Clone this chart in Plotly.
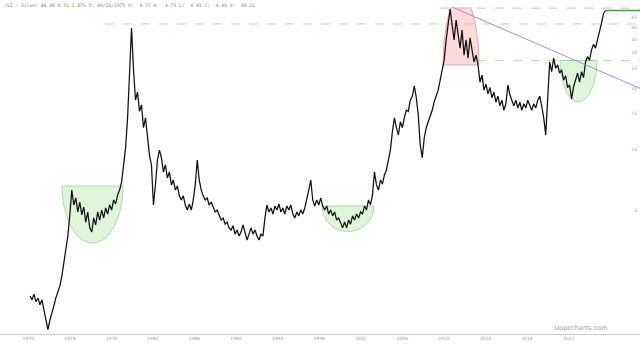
import numpy as np
import pandas as pd
import plotly.graph_objects as go

# ---------------- data ----------------
start_date = "1970-03-03"
step_days = 70
prices = [
    1.89, 1.81, 1.93, 1.77, 1.85, 1.71, 1.81, 1.61, 1.47, 1.29,
    1.44, 1.54, 1.69, 1.85, 1.98, 2.12, 2.37, 2.80, 3.19, 3.74,
    4.75, 6.30, 5.32, 5.76, 4.91, 5.50, 4.75, 5.20, 4.38, 4.91,
    4.10, 3.91, 4.59, 4.24, 4.91, 4.48, 5.02, 4.59, 5.14, 4.80,
    5.32, 5.02, 5.63, 5.38, 5.96, 6.30, 6.90, 8.38, 10.15, 14.3,
    22.0, 39.7, 24.7, 17.5, 19.2, 15.4, 16.6, 12.8, 14.3, 11.1,
    9.38, 8.38, 5.32, 6.68, 8.87, 9.93, 9.10, 7.74, 8.38, 7.23,
    7.74, 6.68, 7.06, 6.30, 6.60, 5.90, 5.63, 5.90, 5.32, 5.02,
    5.38, 5.02, 5.63, 6.68, 8.87, 7.06, 6.30, 5.90, 5.63, 5.76,
    5.32, 5.50, 5.14, 4.91, 5.02, 4.70, 4.48, 4.59, 4.28, 4.38,
    4.10, 4.00, 4.20, 3.82, 4.00, 3.74, 3.91, 4.24, 3.91, 3.57,
    3.82, 4.10, 3.82, 4.00, 3.74, 3.57, 3.82, 3.74, 4.59, 5.32,
    4.91, 5.14, 4.80, 5.26, 5.02, 5.38, 4.91, 5.14, 4.80, 5.26,
    5.02, 5.32, 4.80, 4.59, 4.91, 4.70, 5.02, 4.80, 5.14, 5.63,
    6.30, 7.06, 5.63, 5.26, 5.63, 5.32, 5.76, 5.26, 5.02, 5.26,
    4.80, 5.02, 4.70, 4.91, 4.48, 4.59, 4.28, 4.10, 4.38, 4.10,
    4.48, 4.28, 4.70, 4.48, 4.80, 4.59, 4.91, 4.80, 5.26, 5.02,
    5.63, 5.32, 5.96, 7.74, 6.68, 6.30, 7.06, 6.75, 7.48, 7.91,
    8.87, 9.93, 12.2, 14.3, 12.8, 11.8, 13.7, 12.8, 14.3, 15.6,
    15.4, 17.5, 18.3, 20.6, 18.0, 14.8, 10.5, 9.10, 11.4, 12.8,
    13.7, 14.6, 15.6, 17.2, 18.3, 19.6, 22.0, 24.7, 27.6, 34.7,
    42.5, 49.3, 41.1, 34.7, 43.5, 38.0, 31.6, 38.8, 29.2, 34.7,
    28.2, 35.5, 30.9, 27.0, 29.2, 26.1, 21.5, 23.3, 19.6, 21.0,
    18.8, 20.2, 18.0, 19.2, 17.1, 18.3, 16.4, 17.5, 15.6, 16.8,
    20.8, 18.6, 17.5, 16.4, 17.5, 16.0, 17.1, 15.6, 16.8, 16.0,
    17.5, 16.4, 15.6, 16.8, 16.0, 17.5, 18.3, 16.4, 14.3, 11.8,
    17.5, 27.0, 24.2, 28.2, 25.2, 26.1, 23.8, 24.7, 22.0, 23.1,
    20.2, 20.8, 17.7, 20.4, 22.0, 23.8, 21.5, 24.2, 22.6, 27.0,
    28.7, 27.6, 30.9, 33.0, 31.6, 34.7, 37.3, 41.9, 46.7, 48.48,
]
last_price = 48.48
tick_years = [1970, 1974, 1978, 1982, 1986, 1990, 1994, 1998, 2002, 2006, 2010, 2014, 2018, 2022]
price_ticks = [5, 10, 15, 20, 25, 30, 35, 40, 45]

# annotation geometry (fractional years / prices)
green_cups = [(1973.25, 1979.12, 6.6, 3.45),
              (1998.27, 2003.28, 5.25, 3.93),
              (2021.18, 2024.74, 27.5, 17.2)]
red_dome = (2009.92, 2013.38, 26.1, 57.0)
level_1980 = (1977.39, 41.6)
level_2011 = (2009.70, 49.8)
level_mid = (2013.20, 27.5)
trend = ((2010.85, 50.3), (2028.88, 20.0))
x_range = (1967.28, 2028.88)
y_range = (1.2276, 50.45)

header = ("/SI - Silver 48.48 <span style='color:#6aa84f'>0.51 1.07%</span> "
          "D: 09/16/1975 O:  4.37 H:  4.75 L:  4.41 C:  4.46 V:  48.61")

# ---------------- helpers ----------------
def yr(t):
    return pd.Timestamp("1970-01-01") + pd.Timedelta(days=(t - 1970) * 365.25)

def half_ellipse(tl, tr, p_flat, p_apex, n=60):
    th = np.linspace(0, np.pi, n)
    tc, rx = (tl + tr) / 2, (tr - tl) / 2
    lf, la = np.log10(p_flat), np.log10(p_apex)
    xs = [yr(tc + rx * np.cos(a)) for a in th]
    ys = [10 ** (lf + (la - lf) * np.sin(a)) for a in th]
    xs.append(xs[0]); ys.append(ys[0])
    return xs, ys

dates = pd.date_range(start_date, periods=len(prices), freq=f"{step_days}D")

fig = go.Figure()

for tl, tr, ptop, pbot in green_cups:
    xs, ys = half_ellipse(tl, tr, ptop, pbot)
    fig.add_trace(go.Scatter(x=xs, y=ys, mode="lines", fill="toself",
                             fillcolor="rgba(160,225,150,0.35)",
                             line=dict(color="rgba(130,205,120,0.8)", width=0.8),
                             hoverinfo="skip", showlegend=False))

xs, ys = half_ellipse(red_dome[0], red_dome[1], red_dome[2], red_dome[3])
fig.add_trace(go.Scatter(x=xs, y=ys, mode="lines", fill="toself",
                         fillcolor="rgba(242,150,150,0.35)",
                         line=dict(color="rgba(225,125,125,0.8)", width=0.8),
                         hoverinfo="skip", showlegend=False))

fig.add_trace(go.Scatter(x=dates, y=prices, mode="lines",
                         line=dict(color="#111111", width=1.25),
                         showlegend=False))

x_end = yr(x_range[1])
shapes = [
    dict(type="line", xref="x", yref="y", x0=yr(level_1980[0]), x1=x_end,
         y0=level_1980[1], y1=level_1980[1],
         line=dict(color="#b9e3a6", width=1, dash="dash"), layer="below"),
    dict(type="line", xref="x", yref="y", x0=yr(level_2011[0]), x1=x_end,
         y0=level_2011[1], y1=level_2011[1],
         line=dict(color="#f2b8b8", width=1, dash="dash"), layer="below"),
    dict(type="line", xref="x", yref="y", x0=yr(level_mid[0]), x1=x_end,
         y0=level_mid[1], y1=level_mid[1],
         line=dict(color="#b9e3a6", width=1, dash="dash"), layer="below"),
    dict(type="line", xref="x", yref="y", x0=yr(trend[0][0]), x1=yr(trend[1][0]),
         y0=trend[0][1], y1=trend[1][1],
         line=dict(color="#8a8ae0", width=0.9)),
    dict(type="line", xref="x", yref="y", x0=dates[-1], x1=x_end,
         y0=last_price, y1=last_price,
         line=dict(color="#3f9f3f", width=1.6)),
]

fig.update_layout(
    width=640, height=345,
    margin=dict(l=0, r=0, t=7, b=11),
    paper_bgcolor="white", plot_bgcolor="white",
    shapes=shapes,
    showlegend=False,
    xaxis=dict(type="date", range=[yr(x_range[0]), x_end],
               tickvals=[yr(y) for y in tick_years],
               ticktext=[str(y) for y in tick_years],
               showgrid=False, zeroline=False, showline=True,
               linecolor="#cccccc", linewidth=1, ticks="",
               tickfont=dict(size=4.5, color="#999999", family="DejaVu Sans")),
    yaxis=dict(type="log", range=[np.log10(y_range[0]), np.log10(y_range[1])],
               side="right", ticklabelposition="inside",
               tickvals=price_ticks, ticktext=[str(v) for v in price_ticks],
               showgrid=False, zeroline=False, showline=False, ticks="",
               tickfont=dict(size=4.5, color="#999999", family="DejaVu Sans")),
    annotations=[
        dict(text=header, xref="paper", yref="paper", x=0.003, y=1.006,
             xanchor="left", yanchor="middle", showarrow=False,
             font=dict(family="DejaVu Sans Mono", size=4.7, color="#888888")),
        dict(text="slopecharts.com", xref="paper", yref="paper", x=0.908, y=0.018,
             xanchor="center", yanchor="middle", showarrow=False,
             font=dict(family="DejaVu Sans", size=6.5, color="#a0a0a0")),
    ],
)

fig.write_html("out.html")
